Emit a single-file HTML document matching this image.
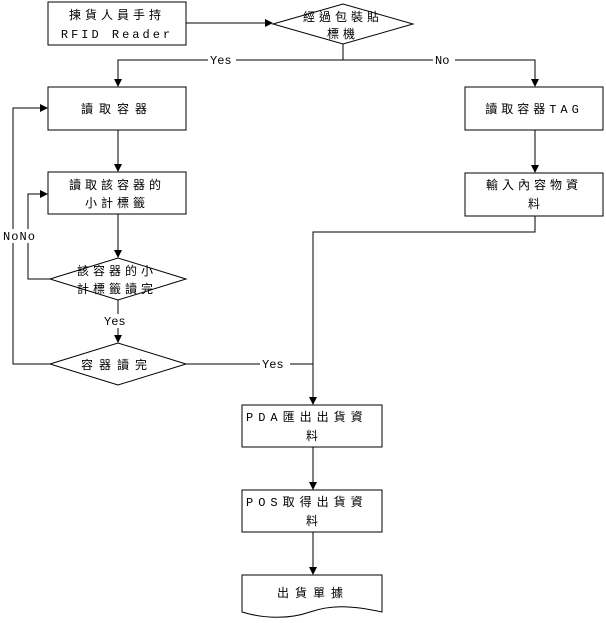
<!DOCTYPE html>
<html><head><meta charset="utf-8"><style>
html,body{margin:0;padding:0;background:#fff;width:606px;height:623px;overflow:hidden}
text{font-family:"Liberation Mono","Noto Sans CJK TC",monospace;font-size:12px;fill:#000}
</style></head><body>
<svg width="606" height="623" viewBox="0 0 606 623" xmlns="http://www.w3.org/2000/svg">
<defs><marker id="a" markerWidth="8" markerHeight="8" refX="7" refY="4" orient="auto" markerUnits="userSpaceOnUse"><path d="M0,0 L8,4 L0,8 z" fill="#000"/></marker></defs>
<g fill="none" stroke="#000" stroke-width="1">
<rect x="48" y="2" width="138" height="43"/>
<polygon points="273,24 343,4 413,24 343,44"/>
<rect x="48" y="87" width="138" height="43"/>
<rect x="465" y="87" width="138" height="43"/>
<rect x="48" y="172" width="138" height="42"/>
<rect x="465" y="173" width="138" height="43"/>
<polygon points="50,279 118,258 186,279 118,300"/>
<polygon points="50,364 118,343 186,364 118,385"/>
<rect x="242" y="405" width="140" height="42"/>
<rect x="242" y="490" width="140" height="42"/>
<path d="M242,575 H382 V612 C350,605 330,605 310,612 C290,619 265,619 242,612 Z"/>
<line x1="186" y1="23" x2="272" y2="23" marker-end="url(#a)"/>
<polyline points="343,44 343,60 118,60 118,86" marker-end="url(#a)"/>
<polyline points="343,60 535,60 535,86" marker-end="url(#a)"/>
<line x1="118" y1="130" x2="118" y2="171" marker-end="url(#a)"/>
<line x1="535" y1="130" x2="535" y2="172" marker-end="url(#a)"/>
<line x1="118" y1="214" x2="118" y2="257" marker-end="url(#a)"/>
<polyline points="50,279 28,279 28,194 47,194" marker-end="url(#a)"/>
<line x1="118" y1="300" x2="118" y2="342" marker-end="url(#a)"/>
<polyline points="50,364 13,364 13,108 47,108" marker-end="url(#a)"/>
<line x1="186" y1="364" x2="313" y2="364"/>
<polyline points="535,216 535,232 313,232 313,404" marker-end="url(#a)"/>
<line x1="313" y1="447" x2="313" y2="489" marker-end="url(#a)"/>
<line x1="313" y1="532" x2="313" y2="574" marker-end="url(#a)"/>
</g>
<g>
<rect x="208" y="53" width="28" height="14" fill="#fff"/><text x="210" y="64">Yes</text>
<rect x="433" y="53" width="22" height="14" fill="#fff"/><text x="435" y="64">No</text>
<rect x="102" y="314" width="28" height="14" fill="#fff"/><text x="104" y="325">Yes</text>
<rect x="260" y="357" width="30" height="14" fill="#fff"/><text x="262" y="368">Yes</text>
<rect x="2" y="229" width="34" height="14" fill="#fff"/><text x="3" y="240" textLength="32">NoNo</text>
<text x="117" y="19" text-anchor="middle" letter-spacing="4">揀貨人員手持</text>
<text x="117" y="38" text-anchor="middle" letter-spacing="3" font-size="14">RFID Reader</text>
<text x="343" y="21" text-anchor="middle" letter-spacing="4">經過包裝貼</text>
<text x="343" y="38" text-anchor="middle" letter-spacing="4">標機</text>
<text x="117" y="113" text-anchor="middle" letter-spacing="6">讀取容器</text>
<text x="534" y="113" text-anchor="middle" letter-spacing="4">讀取容器TAG</text>
<text x="117" y="189" text-anchor="middle" letter-spacing="4">讀取該容器的</text>
<text x="117" y="207" text-anchor="middle" letter-spacing="4">小計標籤</text>
<text x="534" y="189" text-anchor="middle" letter-spacing="4">輸入內容物資</text>
<text x="534" y="208" text-anchor="middle">料</text>
<text x="117" y="275" text-anchor="middle" letter-spacing="4">該容器的小</text>
<text x="117" y="293" text-anchor="middle" letter-spacing="4">計標籤讀完</text>
<text x="117" y="369" text-anchor="middle" letter-spacing="6">容器讀完</text>
<text x="246" y="421" letter-spacing="5">PDA匯出出貨資</text>
<text x="306" y="440">料</text>
<text x="246" y="506" letter-spacing="5">POS取得出貨資</text>
<text x="306" y="525">料</text>
<text x="313" y="597" text-anchor="middle" letter-spacing="6">出貨單據</text>
</g>
</svg>
</body></html>
